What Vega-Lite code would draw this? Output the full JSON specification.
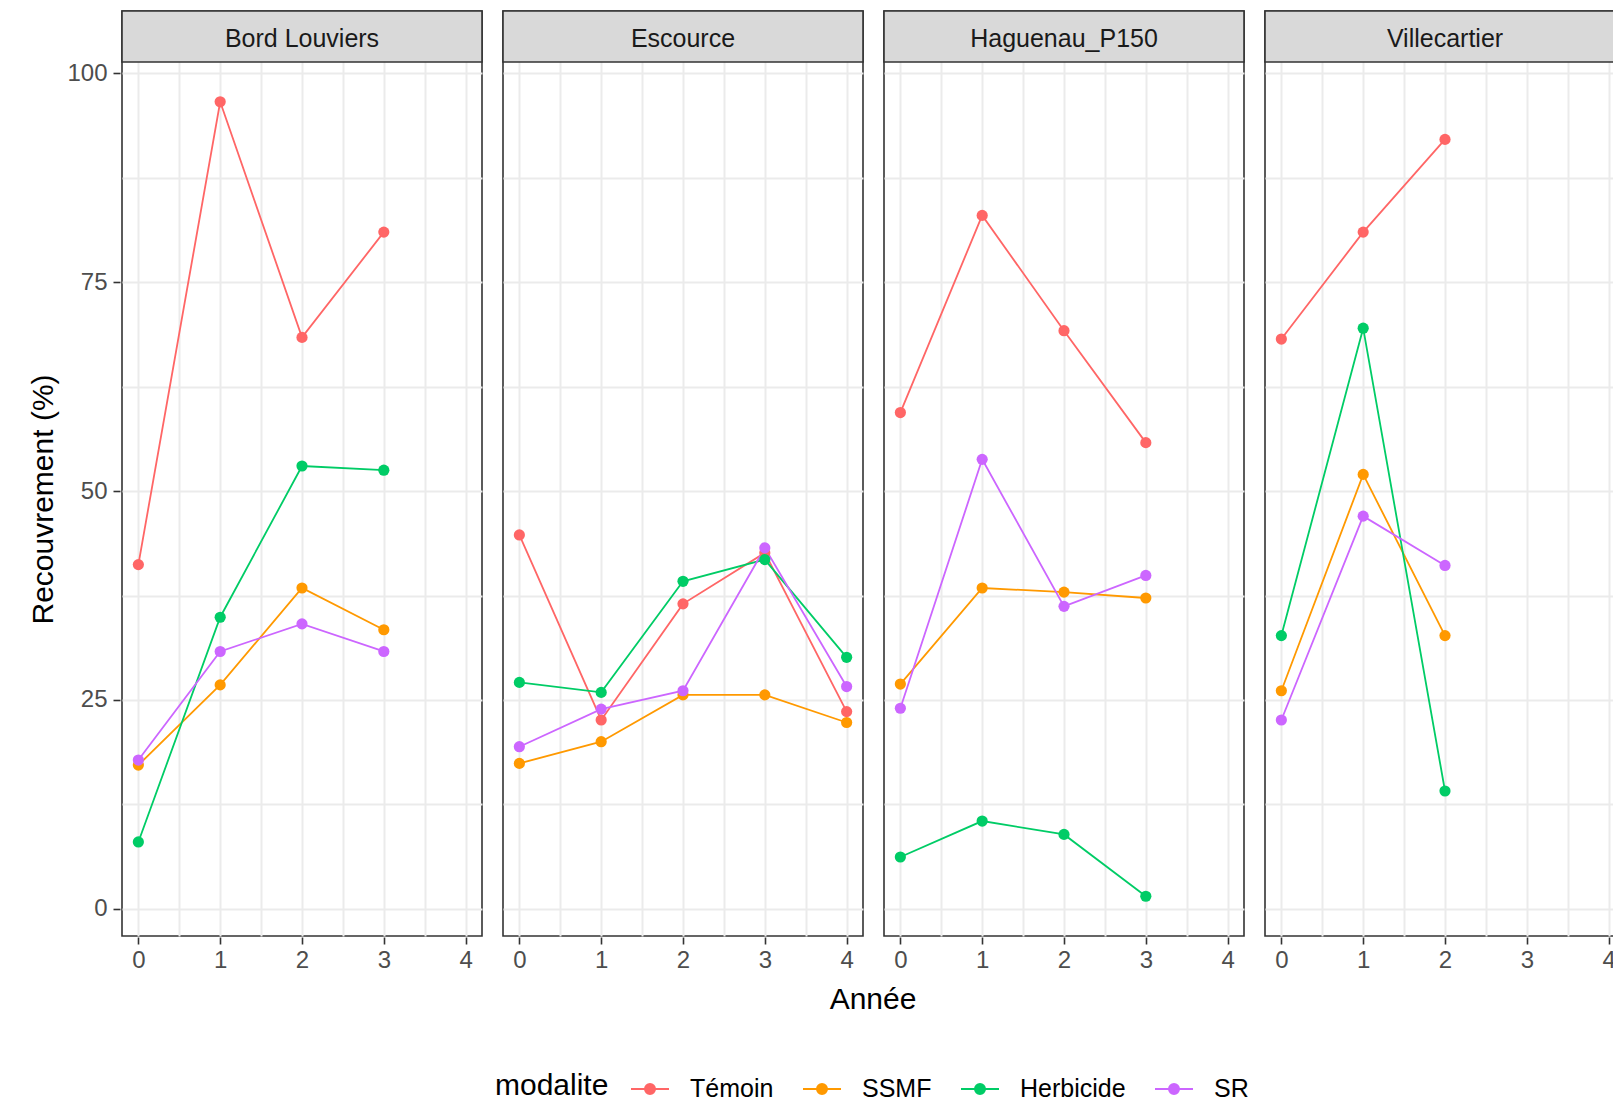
{
  "$schema": "https://vega.github.io/schema/vega-lite/v6.json",
  "autosize": {"type": "pad"},
  "padding": {"left": 28, "top": 9, "right": 0, "bottom": 0},
  "background": "white",
  "config": {
    "font": "Liberation Sans",
    "view": {"stroke": "#333333", "strokeWidth": 1.6},
    "axis": {
      "domain": false,
      "gridColor": "#EBEBEB",
      "gridWidth": 2,
      "tickColor": "#333333",
      "tickWidth": 1.6,
      "tickSize": 7,
      "labelFontSize": 24,
      "labelColor": "#4D4D4D",
      "labelFont": "Liberation Sans",
      "titleFont": "Liberation Sans",
      "titleFontSize": 30,
      "titleFontWeight": "normal",
      "titleColor": "#000000",
      "labelOverlap": false,
      "labelFlush": false
    }
  },
  "data": {
    "values": [
      {"site": "Bord Louviers", "annee": 0, "modalite": "Témoin", "recouvrement": 41.2},
      {"site": "Bord Louviers", "annee": 1, "modalite": "Témoin", "recouvrement": 96.6},
      {"site": "Bord Louviers", "annee": 2, "modalite": "Témoin", "recouvrement": 68.4},
      {"site": "Bord Louviers", "annee": 3, "modalite": "Témoin", "recouvrement": 81.0},
      {"site": "Bord Louviers", "annee": 0, "modalite": "SSMF", "recouvrement": 17.2},
      {"site": "Bord Louviers", "annee": 1, "modalite": "SSMF", "recouvrement": 26.8},
      {"site": "Bord Louviers", "annee": 2, "modalite": "SSMF", "recouvrement": 38.4},
      {"site": "Bord Louviers", "annee": 3, "modalite": "SSMF", "recouvrement": 33.4},
      {"site": "Bord Louviers", "annee": 0, "modalite": "Herbicide", "recouvrement": 8.0},
      {"site": "Bord Louviers", "annee": 1, "modalite": "Herbicide", "recouvrement": 34.9},
      {"site": "Bord Louviers", "annee": 2, "modalite": "Herbicide", "recouvrement": 53.0},
      {"site": "Bord Louviers", "annee": 3, "modalite": "Herbicide", "recouvrement": 52.5},
      {"site": "Bord Louviers", "annee": 0, "modalite": "SR", "recouvrement": 17.8},
      {"site": "Bord Louviers", "annee": 1, "modalite": "SR", "recouvrement": 30.8},
      {"site": "Bord Louviers", "annee": 2, "modalite": "SR", "recouvrement": 34.1},
      {"site": "Bord Louviers", "annee": 3, "modalite": "SR", "recouvrement": 30.8},
      {"site": "Escource", "annee": 0, "modalite": "Témoin", "recouvrement": 44.75},
      {"site": "Escource", "annee": 1, "modalite": "Témoin", "recouvrement": 22.6},
      {"site": "Escource", "annee": 2, "modalite": "Témoin", "recouvrement": 36.5},
      {"site": "Escource", "annee": 3, "modalite": "Témoin", "recouvrement": 42.6},
      {"site": "Escource", "annee": 4, "modalite": "Témoin", "recouvrement": 23.6},
      {"site": "Escource", "annee": 0, "modalite": "SSMF", "recouvrement": 17.4},
      {"site": "Escource", "annee": 1, "modalite": "SSMF", "recouvrement": 20.0},
      {"site": "Escource", "annee": 2, "modalite": "SSMF", "recouvrement": 25.6},
      {"site": "Escource", "annee": 3, "modalite": "SSMF", "recouvrement": 25.6},
      {"site": "Escource", "annee": 4, "modalite": "SSMF", "recouvrement": 22.3},
      {"site": "Escource", "annee": 0, "modalite": "Herbicide", "recouvrement": 27.1},
      {"site": "Escource", "annee": 1, "modalite": "Herbicide", "recouvrement": 25.9},
      {"site": "Escource", "annee": 2, "modalite": "Herbicide", "recouvrement": 39.2},
      {"site": "Escource", "annee": 3, "modalite": "Herbicide", "recouvrement": 41.8},
      {"site": "Escource", "annee": 4, "modalite": "Herbicide", "recouvrement": 30.1},
      {"site": "Escource", "annee": 0, "modalite": "SR", "recouvrement": 19.4},
      {"site": "Escource", "annee": 1, "modalite": "SR", "recouvrement": 23.9},
      {"site": "Escource", "annee": 2, "modalite": "SR", "recouvrement": 26.1},
      {"site": "Escource", "annee": 3, "modalite": "SR", "recouvrement": 43.2},
      {"site": "Escource", "annee": 4, "modalite": "SR", "recouvrement": 26.6},
      {"site": "Haguenau_P150", "annee": 0, "modalite": "Témoin", "recouvrement": 59.4},
      {"site": "Haguenau_P150", "annee": 1, "modalite": "Témoin", "recouvrement": 83.0},
      {"site": "Haguenau_P150", "annee": 2, "modalite": "Témoin", "recouvrement": 69.2},
      {"site": "Haguenau_P150", "annee": 3, "modalite": "Témoin", "recouvrement": 55.8},
      {"site": "Haguenau_P150", "annee": 0, "modalite": "SSMF", "recouvrement": 26.9},
      {"site": "Haguenau_P150", "annee": 1, "modalite": "SSMF", "recouvrement": 38.4},
      {"site": "Haguenau_P150", "annee": 2, "modalite": "SSMF", "recouvrement": 37.9},
      {"site": "Haguenau_P150", "annee": 3, "modalite": "SSMF", "recouvrement": 37.2},
      {"site": "Haguenau_P150", "annee": 0, "modalite": "Herbicide", "recouvrement": 6.2},
      {"site": "Haguenau_P150", "annee": 1, "modalite": "Herbicide", "recouvrement": 10.5},
      {"site": "Haguenau_P150", "annee": 2, "modalite": "Herbicide", "recouvrement": 8.9},
      {"site": "Haguenau_P150", "annee": 3, "modalite": "Herbicide", "recouvrement": 1.5},
      {"site": "Haguenau_P150", "annee": 0, "modalite": "SR", "recouvrement": 24.0},
      {"site": "Haguenau_P150", "annee": 1, "modalite": "SR", "recouvrement": 53.8},
      {"site": "Haguenau_P150", "annee": 2, "modalite": "SR", "recouvrement": 36.2},
      {"site": "Haguenau_P150", "annee": 3, "modalite": "SR", "recouvrement": 39.9},
      {"site": "Villecartier", "annee": 0, "modalite": "Témoin", "recouvrement": 68.2},
      {"site": "Villecartier", "annee": 1, "modalite": "Témoin", "recouvrement": 81.0},
      {"site": "Villecartier", "annee": 2, "modalite": "Témoin", "recouvrement": 92.1},
      {"site": "Villecartier", "annee": 0, "modalite": "SSMF", "recouvrement": 26.1},
      {"site": "Villecartier", "annee": 1, "modalite": "SSMF", "recouvrement": 52.0},
      {"site": "Villecartier", "annee": 2, "modalite": "SSMF", "recouvrement": 32.7},
      {"site": "Villecartier", "annee": 0, "modalite": "Herbicide", "recouvrement": 32.7},
      {"site": "Villecartier", "annee": 1, "modalite": "Herbicide", "recouvrement": 69.5},
      {"site": "Villecartier", "annee": 2, "modalite": "Herbicide", "recouvrement": 14.1},
      {"site": "Villecartier", "annee": 0, "modalite": "SR", "recouvrement": 22.6},
      {"site": "Villecartier", "annee": 1, "modalite": "SR", "recouvrement": 47.0},
      {"site": "Villecartier", "annee": 2, "modalite": "SR", "recouvrement": 41.1}
    ]
  },
  "facet": {
    "column": {
      "field": "site",
      "type": "nominal",
      "title": "Année",
      "header": {
        "labels": false,
        "titleOrient": "bottom",
        "titleFontSize": 30,
        "titleFontWeight": "normal",
        "titleColor": "#000000",
        "titleFont": "Liberation Sans",
        "titlePadding": 3
      }
    }
  },
  "spacing": {"column": 17},
  "spec": {
    "width": 360,
    "height": 925,
    "encoding": {
      "x": {
        "field": "annee",
        "type": "quantitative",
        "title": null,
        "scale": {"domain": [-0.2, 4.2], "nice": false, "zero": false},
        "axis": {
          "values": [0, 0.5, 1, 1.5, 2, 2.5, 3, 3.5, 4],
          "labelExpr": "datum.value % 1 === 0 ? format(datum.value, 'd') : ''",
          "tickOpacity": {"condition": {"test": "datum.value % 1 !== 0", "value": 0}, "value": 1},
          "labelPadding": 4
        }
      },
      "y": {
        "field": "recouvrement",
        "type": "quantitative",
        "title": "Recouvrement (%)",
        "scale": {"domain": [-3.26, 107.47], "nice": false, "zero": false},
        "axis": {
          "values": [0, 12.5, 25, 37.5, 50, 62.5, 75, 87.5, 100],
          "labelExpr": "datum.value % 25 === 0 ? format(datum.value, 'd') : ''",
          "tickOpacity": {"condition": {"test": "datum.value % 25 !== 0", "value": 0}, "value": 1},
          "labelPadding": 6,
          "titlePadding": 8,
          "titleY": 488
        }
      },
      "color": {
        "field": "modalite",
        "type": "nominal",
        "scale": {
          "domain": ["Témoin", "SSMF", "Herbicide", "SR"],
          "range": ["#FF6666", "#FF9900", "#00CC66", "#CC66FF"]
        },
        "legend": {
          "orient": "none",
          "legendX": 373,
          "legendY": 1058,
          "direction": "horizontal",
          "title": "modalite",
          "titleOrient": "left",
          "titleAnchor": "middle",
          "titleBaseline": "middle",
          "titleFontSize": 30,
          "titleFontWeight": "normal",
          "titleColor": "#000000",
          "titlePadding": 21,
          "labelFontSize": 25,
          "labelColor": "#000000",
          "labelOffset": 20,
          "columnPadding": 25,
          "symbolType": "M-1,0L1,0M-0.263,0A0.263,0.263,0,1,1,0.263,0A0.263,0.263,0,1,1,-0.263,0Z",
          "symbolSize": 1444,
          "symbolStrokeWidth": 2,
          "encode": {
            "symbols": {
              "update": {
                "fill": {"scale": "color", "field": "value"},
                "stroke": {"scale": "color", "field": "value"},
                "opacity": {"value": 1}
              }
            }
          }
        }
      }
    },
    "layer": [
      {"mark": {"type": "line", "strokeWidth": 1.8}},
      {"mark": {"type": "point", "filled": true, "size": 125, "opacity": 1}},
      {
        "transform": [{"filter": "datum.annee === 0 && datum.modalite === 'Témoin'"}],
        "mark": {"type": "rect", "fill": "#D9D9D9", "stroke": "#333333", "strokeWidth": 1.6},
        "encoding": {
          "x": {"datum": -0.2, "type": "quantitative"},
          "x2": {"datum": 4.2},
          "y": {"datum": 101.36, "type": "quantitative"},
          "y2": {"datum": 107.47},
          "color": null
        }
      },
      {
        "transform": [{"filter": "datum.annee === 0 && datum.modalite === 'Témoin'"}],
        "mark": {"type": "text", "fontSize": 25, "color": "#1A1A1A", "baseline": "middle", "align": "center", "font": "Liberation Sans"},
        "encoding": {
          "x": {"datum": 2, "type": "quantitative"},
          "y": {"datum": 104.15, "type": "quantitative"},
          "text": {"field": "site"},
          "color": null
        }
      }
    ]
  }
}
